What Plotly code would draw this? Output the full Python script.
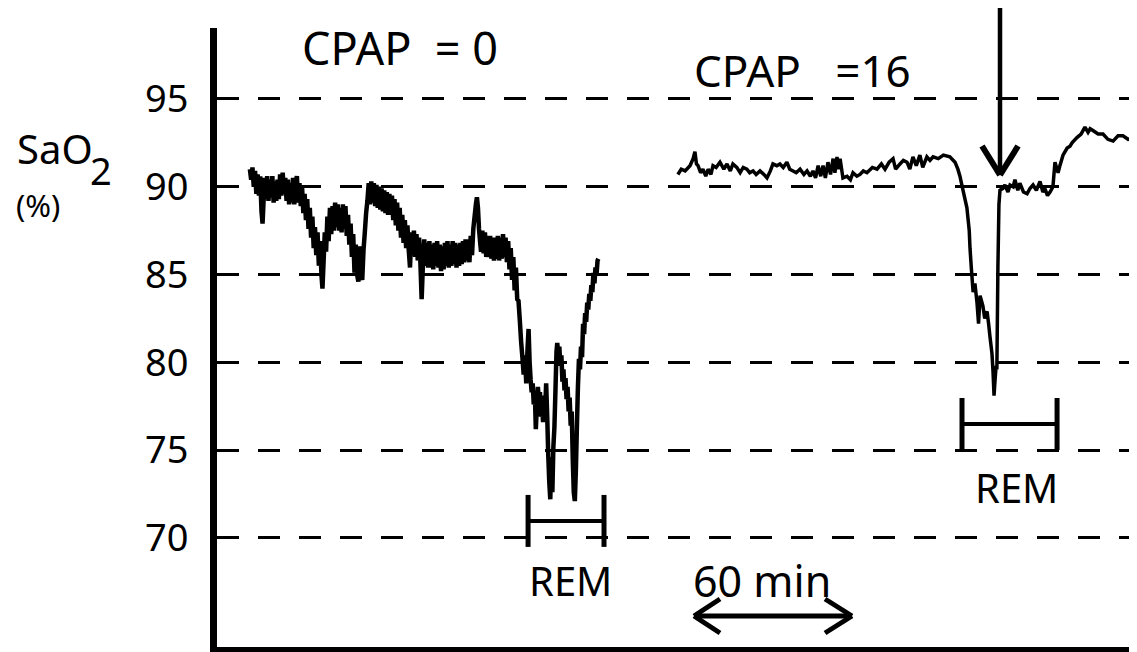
import plotly.graph_objects as go

# ---------------- data (minutes, SaO2 %) ----------------
cpap0_points = [
    (13.5, 91.0), (14.0, 90.4), (14.5, 91.1), (15.0, 90.0), (15.5, 90.9), (16.0, 89.6), (16.5, 90.7),
    (17.0, 89.5), (17.5, 90.6), (18.0, 88.6), (18.4, 87.9), (18.8, 89.2), (19.2, 90.5), (19.7, 89.3),
    (20.2, 90.6), (20.7, 89.2), (21.2, 90.4), (21.7, 89.4), (22.2, 90.6), (22.7, 89.1), (23.2, 90.3),
    (23.7, 89.2), (24.2, 90.4), (24.7, 89.3), (25.2, 90.7), (25.7, 89.5), (26.2, 90.8), (26.7, 89.6),
    (27.2, 90.5), (27.7, 89.2), (28.2, 90.4), (28.7, 89.0), (29.2, 90.2), (29.7, 89.1), (30.2, 90.5),
    (30.7, 89.0), (31.2, 90.3), (31.7, 90.6), (32.2, 89.1), (32.7, 90.2), (33.2, 88.9), (33.7, 90.0),
    (34.2, 88.5), (34.7, 89.6), (35.2, 88.1), (35.7, 89.3), (36.2, 87.6), (36.7, 88.8), (37.2, 87.1),
    (37.7, 88.3), (38.2, 86.5), (38.7, 87.7), (39.2, 86.1), (39.7, 87.4), (40.2, 85.5), (40.7, 86.9),
    (41.2, 85.0), (41.6, 84.2), (42.0, 85.6), (42.5, 87.4), (43.0, 86.3), (43.5, 88.3), (44.0, 86.9),
    (44.5, 88.8), (45.0, 87.3), (45.5, 88.9), (46.0, 87.5), (46.5, 89.1), (47.0, 87.7), (47.5, 89.0),
    (48.0, 87.5), (48.5, 88.8), (49.0, 87.4), (49.5, 89.0), (50.0, 87.6), (50.5, 88.9), (51.0, 87.2),
    (51.5, 88.4), (52.0, 86.7), (52.5, 87.9), (53.0, 86.0), (53.5, 87.3), (54.0, 85.1), (54.5, 86.7),
    (55.0, 85.0), (55.5, 84.6), (56.0, 86.6), (56.5, 84.9), (57.0, 84.7), (57.5, 86.4), (58.0, 87.4),
    (58.5, 88.5), (59.0, 89.2), (59.5, 90.2), (60.0, 89.0), (60.5, 90.3), (61.0, 89.1), (61.5, 90.2),
    (62.0, 88.9), (62.5, 90.1), (63.0, 88.8), (63.5, 90.0), (64.0, 88.7), (64.5, 89.9), (65.0, 88.6),
    (65.5, 89.8), (66.0, 88.5), (66.5, 89.7), (67.0, 88.4), (67.5, 89.6), (68.0, 88.4), (68.5, 89.5),
    (69.0, 88.1), (69.5, 89.3), (70.0, 87.8), (70.5, 89.1), (71.0, 87.5), (71.5, 88.8), (72.0, 87.1),
    (72.5, 88.4), (73.0, 86.8), (73.5, 88.1), (74.0, 86.5), (74.5, 87.8), (75.0, 86.4), (75.5, 85.4),
    (76.0, 87.4), (76.5, 86.1), (77.0, 87.5), (77.5, 86.0), (78.0, 87.3), (78.5, 85.8), (79.0, 87.1),
    (79.5, 85.7), (80.0, 83.6), (80.5, 85.6), (81.0, 87.0), (81.5, 85.5), (82.0, 86.8), (82.5, 85.4),
    (83.0, 86.9), (83.5, 85.4), (84.0, 86.7), (84.5, 85.3), (85.0, 86.8), (85.5, 85.5), (86.0, 86.9),
    (86.5, 85.4), (87.0, 86.7), (87.5, 85.2), (88.0, 86.6), (88.5, 85.3), (89.0, 86.8), (89.5, 85.5),
    (90.0, 86.9), (90.5, 85.4), (91.0, 86.7), (91.5, 85.5), (92.0, 86.9), (92.5, 85.6), (93.0, 86.8),
    (93.5, 85.4), (94.0, 86.7), (94.5, 85.5), (95.0, 86.8), (95.5, 85.6), (96.0, 86.9), (96.5, 85.7),
    (97.0, 87.0), (97.5, 85.8), (98.0, 87.0), (98.5, 85.7), (99.0, 87.2), (99.5, 86.1), (100.0, 87.6),
    (100.5, 88.3), (101.0, 89.0), (101.4, 89.4), (101.8, 88.8), (102.2, 87.6), (102.6, 86.9), (103.0, 86.3),
    (103.5, 87.5), (104.0, 86.2), (104.5, 87.4), (105.0, 86.0), (105.5, 87.2), (106.0, 86.0), (106.5, 87.2),
    (107.0, 85.9), (107.5, 87.1), (108.0, 85.8), (108.5, 87.1), (109.0, 85.9), (109.5, 87.2), (110.0, 85.8),
    (110.5, 87.1), (111.0, 85.9), (111.5, 87.3), (112.0, 86.0), (112.5, 87.1), (113.0, 85.7), (113.5, 86.9),
    (114.0, 85.3), (114.5, 86.5), (115.0, 84.7), (115.5, 86.0), (116.0, 84.1), (116.5, 85.4), (117.0, 83.6),
    (117.5, 83.5), (118.0, 82.4), (118.5, 81.2), (119.0, 80.3), (119.5, 79.3), (120.0, 80.4), (120.5, 78.8),
    (121.0, 80.8), (121.4, 81.9), (121.8, 80.0), (122.2, 79.0), (122.6, 78.3), (123.0, 78.8), (123.4, 77.6),
    (123.8, 78.4), (124.2, 76.2), (124.6, 77.5), (125.0, 78.6), (125.4, 77.8), (125.8, 78.3), (126.2, 76.9),
    (126.6, 77.7), (127.0, 76.6), (127.4, 78.1), (127.8, 77.2), (128.2, 78.8), (128.6, 77.0), (129.0, 74.8),
    (129.4, 73.2), (129.8, 72.2), (130.2, 74.6), (130.6, 72.6), (131.0, 75.2), (131.4, 76.3), (131.8, 78.4),
    (132.2, 80.6), (132.5, 81.1), (132.9, 80.4), (133.3, 80.9), (133.7, 79.8), (134.1, 80.4), (134.5, 78.9),
    (134.9, 79.6), (135.3, 78.4), (135.7, 79.1), (136.1, 77.9), (136.5, 78.6), (136.9, 77.2), (137.3, 78.0),
    (137.7, 76.4), (138.1, 77.2), (138.5, 74.5), (138.9, 72.6), (139.3, 72.1), (139.7, 73.8), (140.1, 76.3),
    (140.5, 78.6), (140.9, 80.2), (141.3, 79.6), (141.7, 80.9), (142.1, 80.3), (142.5, 82.2), (142.9, 81.6),
    (143.3, 82.8), (143.7, 82.3), (144.1, 83.4), (144.5, 83.0), (144.9, 83.9), (145.3, 83.5), (145.7, 84.4),
    (146.1, 84.0), (146.5, 85.1), (146.9, 84.5), (147.3, 85.4), (147.7, 85.0), (148.1, 85.8), (148.4, 85.9),
]

cpap16_t = [179.2, 180.5, 182.0, 183.9, 185.1, 185.8, 186.4, 187.0, 188.0, 188.9, 190.0, 190.9, 192.0, 192.8, 194.0,
            195.5, 197.0, 198.2, 199.5, 200.5, 202.0, 203.3, 204.5, 205.9, 207.0, 208.3, 209.5, 211.0, 212.5, 213.7,
            215.0, 216.0, 217.5, 218.7, 220.0, 221.4, 222.5, 223.8, 225.0, 226.5, 228.0, 229.2, 230.5, 231.5, 232.5,
            233.5, 234.5, 235.4, 236.3, 237.3, 238.3, 239.3, 240.0, 240.8, 241.5, 242.0, 243.1, 244.7, 246.0, 247.0,
            248.5, 249.7, 251.0, 252.4, 254.5, 256.3, 258.0, 259.4, 261.0, 262.5, 263.5, 265.2, 266.5, 267.9, 269.0,
            270.2, 271.5, 272.9, 274.0, 275.6, 276.8, 278.0, 280.0, 282.0, 284.5, 286.5, 287.6, 288.4, 289.6, 291.1,
            292.0, 292.3, 292.8, 293.5, 294.2, 295.0, 295.6, 296.2, 297.3, 298.0, 298.9, 299.5, 300.0, 300.8, 301.2,
            301.6, 302.0, 302.4, 302.7, 303.1, 303.5, 303.9, 305.0, 305.8, 307.0, 307.8, 309.0, 309.7, 310.8, 311.6,
            313.0, 314.4, 315.5, 316.7, 318.0, 319.4, 320.5, 321.3, 322.3, 323.3, 324.4, 325.2, 326.0, 326.4, 327.1,
            328.3, 329.9, 331.0, 331.8, 333.7, 335.3, 336.8, 338.0, 338.8, 339.9, 341.9, 343.8, 345.7, 347.7, 349.6,
            351.5, 353.5, 355.8]
cpap16_sao2 = [90.7, 91.0, 90.9, 91.2, 91.6, 92.0, 91.3, 91.2, 90.8, 91.0, 90.6, 91.0, 90.7, 91.2, 91.1,
               91.4, 91.0, 91.3, 90.9, 91.3, 91.1, 90.8, 91.1, 91.0, 90.8, 90.9, 90.7, 90.9, 90.7, 90.5,
               90.9, 91.3, 91.2, 91.3, 91.1, 91.4, 91.0, 90.9, 90.8, 91.0, 90.7, 90.9, 90.6, 90.9, 90.5,
               91.2, 90.6, 91.2, 90.5, 91.4, 90.7, 91.6, 90.8, 91.7, 91.0, 91.6, 90.5, 90.6, 90.4, 90.8,
               90.6, 90.7, 90.9, 90.8, 91.1, 91.0, 91.3, 91.0, 91.4, 91.6, 91.0, 91.3, 91.5, 91.4, 91.0,
               91.7, 91.2, 91.8, 91.1, 91.7, 91.5, 91.7, 91.6, 91.8, 91.7, 91.4, 91.0, 90.6, 89.8, 88.8,
               87.5, 86.5, 85.4, 84.0, 84.5, 83.4, 82.2, 83.8, 83.2, 82.5, 82.9, 82.2, 81.5, 80.5, 79.5,
               78.1, 79.0, 79.8, 79.6, 85.4, 89.0, 89.8, 89.9, 90.1, 89.7, 90.1, 90.0, 90.4, 89.8, 90.2,
               89.7, 89.6, 89.9, 90.1, 89.8, 90.3, 89.7, 89.9, 89.5, 89.7, 90.0, 91.4, 91.0, 90.8, 91.2,
               91.8, 92.2, 92.3, 92.5, 92.8, 93.0, 93.4, 93.1, 93.3, 93.2, 93.0, 93.0, 92.7, 92.6, 92.9,
               92.9, 92.7, 92.8]

tick_vals = [70, 75, 80, 85, 90, 95]
tick_text = ["70", "75", "80", "85", "90", "95"]

rem_periods = [(121.2, 150.6), (289.2, 326.0)]   # minutes
rem_level = [70.97, 76.49]                        # SaO2 level of bracket bar
rem_half = 1.48

cpap0_t = [p[0] for p in cpap0_points]
cpap0_sao2 = [p[1] for p in cpap0_points]

# ---------------- layout geometry ----------------
OFF = 8                      # default page body margin
W, H = 1137 - OFF, 652 - OFF
L, R, T, B = 217 - OFF, 0, 28 - OFF, 5
PW, PH = W - L - R, H - T - B
FONT = "Noto Sans"


def px2x(px):
    return (px - OFF - L) / PW


def py2y(py):
    return (H - B - (py - OFF)) / PH


fig = go.Figure()
fig.add_trace(go.Scatter(x=cpap0_t, y=cpap0_sao2, mode="lines",
                         line=dict(color="black", width=4.5, simplify=False), hoverinfo="skip"))
fig.add_trace(go.Scatter(x=cpap16_t, y=cpap16_sao2, mode="lines",
                         line=dict(color="black", width=3.5, simplify=False), hoverinfo="skip"))

shapes = []
for (a, b), lev in zip(rem_periods, rem_level):
    for xx in (a, b):
        shapes.append(dict(type="line", xref="x", yref="y", x0=xx, x1=xx,
                           y0=lev - rem_half, y1=lev + rem_half,
                           line=dict(color="black", width=5)))
    shapes.append(dict(type="line", xref="x", yref="y", x0=a, x1=b, y0=lev, y1=lev,
                       line=dict(color="black", width=4)))


def pline(p0, p1, w):
    return dict(type="line", xref="paper", yref="paper",
                x0=px2x(p0[0]), y0=py2y(p0[1]), x1=px2x(p1[0]), y1=py2y(p1[1]),
                line=dict(color="black", width=w))


# big down arrow
shapes.append(pline((1000, 8), (1000, 172), 4.5))
shapes.append(pline((982, 146), (1000, 175), 6))
shapes.append(pline((1018, 146), (1000, 175), 6))
# 60-min double arrow
shapes.append(pline((695, 616), (851, 616), 5))
shapes.append(pline((720, 599), (694, 616), 5))
shapes.append(pline((720, 633), (694, 616), 5))
shapes.append(pline((825, 599), (852, 616), 5))
shapes.append(pline((825, 633), (852, 616), 5))


def ann(text, px, py, size, xanchor="center"):
    return dict(text=text, xref="paper", yref="paper", x=px2x(px), y=py2y(py),
                xanchor=xanchor, yanchor="middle", showarrow=False,
                font=dict(family=FONT, size=size, color="black"))


NB = "\u00a0"
annotations = [
    ann("CPAP" + NB + NB + "=" + NB + "0", 300, 48, 45, "left"),
    ann("CPAP" + NB + NB + NB + "=16", 692, 70, 44, "left"),
    ann("SaO", 55, 148, 40),
    ann("2", 101, 170, 38),
    ann("(%)", 38, 205, 31),
    ann("REM", 570, 580, 40),
    ann("REM", 1016, 487, 40),
    ann("60 min", 762, 580, 43),
]

fig.update_layout(
    width=W, height=H,
    margin=dict(l=L, r=R, t=T, b=B, pad=0),
    paper_bgcolor="white", plot_bgcolor="white",
    showlegend=False,
    shapes=shapes, annotations=annotations,
    xaxis=dict(range=[0.77, 356.95], showgrid=False, zeroline=False,
               showticklabels=False, ticks="", showline=True,
               linecolor="black", linewidth=6),
    yaxis=dict(range=[63.79, 99.04], tickvals=tick_vals, ticktext=tick_text,
               showgrid=True, gridcolor="black", gridwidth=3, griddash="22px,19px",
               zeroline=False, ticks="", showline=True, linecolor="black", linewidth=7,
               ticklabelstandoff=14,
               tickfont=dict(family=FONT, size=38, color="black")),
)

fig.write_html("out.html")
